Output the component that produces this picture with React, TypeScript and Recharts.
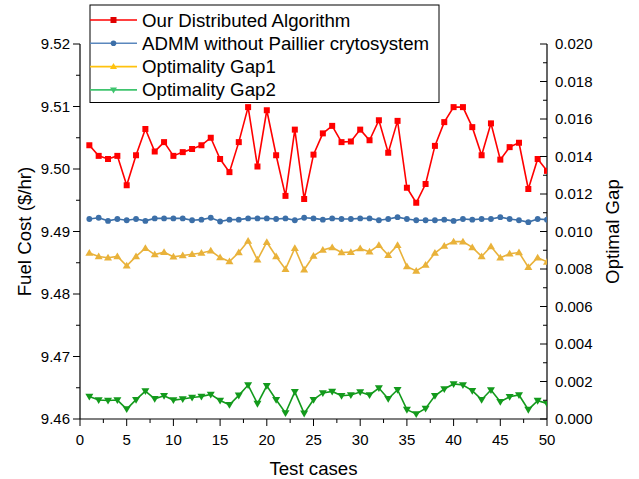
import React from 'react';
import { LineChart, Line, XAxis, YAxis, Label } from 'recharts';

const testCases = [1, 2, 3, 4, 5, 6, 7, 8, 9, 10, 11, 12, 13, 14, 15, 16, 17, 18, 19, 20, 21, 22, 23, 24, 25, 26, 27, 28, 29, 30, 31, 32, 33, 34, 35, 36, 37, 38, 39, 40, 41, 42, 43, 44, 45, 46, 47, 48, 49, 50];

const ourAlgorithm = [
  9.5038, 9.5021, 9.5016, 9.5021, 9.4974, 9.5022, 9.5064, 9.5028, 9.5043, 9.5021,
  9.5027, 9.5032, 9.5038, 9.505, 9.5016, 9.4995, 9.5043, 9.5099, 9.5004, 9.5094,
  9.5022, 9.4957, 9.5063, 9.4952, 9.5023, 9.5057, 9.5069, 9.5043, 9.5044, 9.5063,
  9.5046, 9.5078, 9.5026, 9.5077, 9.497, 9.4946, 9.4976, 9.5037, 9.5075, 9.5099,
  9.5099, 9.5067, 9.5022, 9.5073, 9.5015, 9.5035, 9.5042, 9.4968, 9.5016, 9.4997,
];

const admmPlain = [
  9.492, 9.4922, 9.4917, 9.492, 9.4918, 9.492, 9.4917, 9.4921, 9.4921, 9.4921,
  9.4921, 9.4918, 9.4919, 9.4922, 9.4916, 9.4919, 9.4919, 9.4921, 9.4921, 9.4921,
  9.492, 9.4921, 9.4918, 9.4922, 9.4921, 9.4919, 9.4921, 9.492, 9.492, 9.4921,
  9.4921, 9.4918, 9.492, 9.4923, 9.492, 9.4918, 9.4918, 9.4918, 9.4919, 9.4917,
  9.492, 9.4919, 9.492, 9.492, 9.4923, 9.492, 9.4918, 9.4915, 9.492, 9.4919,
];

const gap1 = [
  0.00885, 0.00867, 0.0086, 0.00867, 0.00817, 0.00867, 0.00911, 0.00877, 0.0089, 0.00865,
  0.00872, 0.00879, 0.00885, 0.00897, 0.00861, 0.0084, 0.00888, 0.00949, 0.00849, 0.00943,
  0.00867, 0.00799, 0.00911, 0.00796, 0.0087, 0.00902, 0.00915, 0.00888, 0.0089, 0.00909,
  0.00892, 0.00927, 0.00874, 0.00927, 0.00813, 0.0079, 0.00821, 0.00885, 0.00923, 0.00946,
  0.00946, 0.00915, 0.00867, 0.0092, 0.0086, 0.00881, 0.00888, 0.0081, 0.0086, 0.00838,
];

const gap2 = [
  0.0012, 0.00101, 0.00099, 0.00101, 0.00053, 0.00103, 0.00149, 0.00108, 0.00124, 0.00101,
  0.00107, 0.00115, 0.0012, 0.00131, 0.00099, 0.00076, 0.00126, 0.00181, 0.00082, 0.00177,
  0.00103, 0.00032, 0.00145, 0.0003, 0.00103, 0.00139, 0.00147, 0.00124, 0.00128, 0.00144,
  0.00128, 0.00165, 0.00108, 0.00156, 0.0005, 0.00027, 0.00056, 0.00124, 0.0016, 0.00187,
  0.00181, 0.00151, 0.00103, 0.00155, 0.00092, 0.00119, 0.00128, 0.0005, 0.00098, 0.00083,
];

const xTicks = [0, 2.5, 5, 7.5, 10, 12.5, 15, 17.5, 20, 22.5, 25, 27.5, 30, 32.5, 35, 37.5, 40, 42.5, 45, 47.5, 50];
const leftTicks = [9.46, 9.465, 9.47, 9.475, 9.48, 9.485, 9.49, 9.495, 9.5, 9.505, 9.51, 9.515, 9.52];
const rightTicks = [0, 0.001, 0.002, 0.003, 0.004, 0.005, 0.006, 0.007, 0.008, 0.009, 0.01, 0.011, 0.012, 0.013, 0.014, 0.015, 0.016, 0.017, 0.018, 0.019, 0.02];

const seriesNames = [
  'Our Distributed Algorithm',
  'ADMM without Paillier crytosystem',
  'Optimality Gap1',
  'Optimality Gap2',
];

const lineColors = ['#ff0000', '#3c6fa8', '#e9b23a', '#139a1c'];
const legendColors = ['#ff0000', '#5a87bd', '#ffc20e', '#3fc46e'];

const data = testCases.map((c, i) => ({
  x: c,
  red: ourAlgorithm[i],
  blue: admmPlain[i],
  yellow: gap1[i],
  green: gap2[i],
}));

const FONT = '"Liberation Sans", Arial, sans-serif';

const isMultiple = (v: number, step: number) => Math.abs(v / step - Math.round(v / step)) < 1e-6;

const LeftTick = (props: any) => {
  const { x, y, payload } = props;
  const major = isMultiple(payload.value, 0.01);
  return (
    <g>
      <line x1={x} x2={x - (major ? 7 : 4)} y1={y} y2={y} stroke="#000" strokeWidth={1} />
      {major && (
        <text x={x - 10} y={y} dy="0.35em" textAnchor="end" fontSize={15} fontFamily={FONT} fill="#000">
          {payload.value.toFixed(2)}
        </text>
      )}
    </g>
  );
};

const RightTick = (props: any) => {
  const { x, y, payload } = props;
  const major = isMultiple(payload.value, 0.002);
  return (
    <g>
      <line x1={x} x2={x - (major ? 7 : 4)} y1={y} y2={y} stroke="#000" strokeWidth={1} />
      {major && (
        <text x={x + 8} y={y} dy="0.35em" textAnchor="start" fontSize={15} fontFamily={FONT} fill="#000">
          {payload.value.toFixed(3)}
        </text>
      )}
    </g>
  );
};

const BottomTick = (props: any) => {
  const { x, y, payload } = props;
  const major = isMultiple(payload.value, 5);
  return (
    <g>
      <line x1={x} x2={x} y1={y} y2={y + (major ? 7 : 4)} stroke="#000" strokeWidth={1} />
      {major && (
        <text x={x} y={y + 21} dy="0.35em" textAnchor="middle" fontSize={15} fontFamily={FONT} fill="#000">
          {String(payload.value)}
        </text>
      )}
    </g>
  );
};

const SquareDot = (props: any) => {
  const { cx, cy, index } = props;
  return <rect key={`s${index}`} x={cx - 3} y={cy - 3} width={6} height={6} fill={lineColors[0]} />;
};
const CircleDot = (props: any) => {
  const { cx, cy, index } = props;
  return <circle key={`c${index}`} cx={cx} cy={cy} r={2.9} fill={lineColors[1]} />;
};
const UpDot = (props: any) => {
  const { cx, cy, index } = props;
  return (
    <path key={`u${index}`} d={`M${cx},${cy - 4} L${cx + 4},${cy + 2.8} L${cx - 4},${cy + 2.8} Z`} fill={lineColors[2]} />
  );
};
const DownDot = (props: any) => {
  const { cx, cy, index } = props;
  return (
    <path key={`d${index}`} d={`M${cx},${cy + 4} L${cx + 4},${cy - 2.8} L${cx - 4},${cy - 2.8} Z`} fill={lineColors[3]} />
  );
};

const legendMarker = (i: number, cx: number, cy: number) => {
  const c = legendColors[i];
  if (i === 0) return <rect x={cx - 3} y={cy - 3} width={6} height={6} fill="#e00000" />;
  if (i === 1) return <circle cx={cx} cy={cy} r={2.8} fill="#3c6fa8" />;
  if (i === 2) return <path d={`M${cx},${cy - 3.5} L${cx + 3.5},${cy + 2.5} L${cx - 3.5},${cy + 2.5} Z`} fill={c} />;
  return <path d={`M${cx},${cy + 3.5} L${cx + 3.5},${cy - 2.5} L${cx - 3.5},${cy - 2.5} Z`} fill={c} />;
};

const Legend = () => (
  <svg
    width={352}
    height={100}
    style={{ position: 'absolute', left: 89, top: 4, overflow: 'visible' }}
  >
    <rect x={1} y={1} width={349} height={97.5} fill="#fff" stroke="#000" strokeWidth={1} />
    {seriesNames.map((name, i) => {
      const cy = 16 + i * 23.3;
      return (
        <g key={name}>
          <line x1={1} x2={48} y1={cy} y2={cy} stroke={legendColors[i]} strokeWidth={1.6} />
          {legendMarker(i, 24.5, cy)}
          <text x={53} y={cy} dy="0.35em" fontSize={18.67} fontFamily={FONT} fill="#000">
            {name}
          </text>
        </g>
      );
    })}
  </svg>
);

export default function App() {
  return (
    <div style={{ position: 'absolute', left: 0, top: 0, width: 639, height: 479, background: '#fff' }}>
      <LineChart
        width={639}
        height={479}
        data={data}
        margin={{ top: 44, right: 0, bottom: 0, left: 0 }}
      >
        <XAxis
          dataKey="x"
          type="number"
          domain={[0, 50]}
          ticks={xTicks}
          interval={0}
          height={60}
          tickSize={0}
          tickMargin={0}
          tickLine={false}
          axisLine={{ stroke: '#000', strokeWidth: 1.2 }}
          tick={<BottomTick />}
          allowDataOverflow
        >
          <Label
            content={(p: any) => {
              const vb = p.viewBox;
              return (
                <text x={vb.x + vb.width / 2} y={vb.y + 49} dy="0.35em" textAnchor="middle" fontSize={18.67} fontFamily={FONT} fill="#000">
                  Test cases
                </text>
              );
            }}
          />
        </XAxis>
        <YAxis
          yAxisId="left"
          orientation="left"
          width={80}
          domain={[9.46, 9.52]}
          ticks={leftTicks}
          interval={0}
          tickSize={0}
          tickMargin={0}
          tickLine={false}
          axisLine={{ stroke: '#000', strokeWidth: 1.2 }}
          tick={<LeftTick />}
          allowDataOverflow
        >
          <Label
            content={(p: any) => {
              const vb = p.viewBox;
              const cx = vb.x + 24;
              const cy = vb.y + vb.height / 2;
              return (
                <text x={cx} y={cy} dy="0.35em" textAnchor="middle" transform={`rotate(-90 ${cx} ${cy})`} fontSize={18.67} fontFamily={FONT} fill="#000">
                  Fuel Cost ($/hr)
                </text>
              );
            }}
          />
        </YAxis>
        <YAxis
          yAxisId="right"
          orientation="right"
          width={92}
          domain={[0, 0.02]}
          ticks={rightTicks}
          interval={0}
          tickSize={0}
          tickMargin={0}
          tickLine={false}
          axisLine={{ stroke: '#000', strokeWidth: 1.2 }}
          tick={<RightTick />}
          allowDataOverflow
        >
          <Label
            content={(p: any) => {
              const vb = p.viewBox;
              const cx = vb.x + 65;
              const cy = vb.y + vb.height / 2;
              return (
                <text x={cx} y={cy} dy="0.35em" textAnchor="middle" transform={`rotate(-90 ${cx} ${cy})`} fontSize={18.67} fontFamily={FONT} fill="#000">
                  Optimal Gap
                </text>
              );
            }}
          />
        </YAxis>
        <Line yAxisId="left" dataKey="red" stroke={lineColors[0]} strokeWidth={1.6} dot={<SquareDot />} activeDot={false} isAnimationActive={false} />
        <Line yAxisId="left" dataKey="blue" stroke={lineColors[1]} strokeWidth={1.6} dot={<CircleDot />} activeDot={false} isAnimationActive={false} />
        <Line yAxisId="right" dataKey="yellow" stroke={lineColors[2]} strokeWidth={1.6} dot={<UpDot />} activeDot={false} isAnimationActive={false} />
        <Line yAxisId="right" dataKey="green" stroke={lineColors[3]} strokeWidth={1.6} dot={<DownDot />} activeDot={false} isAnimationActive={false} />
      </LineChart>
      <Legend />
    </div>
  );
}
